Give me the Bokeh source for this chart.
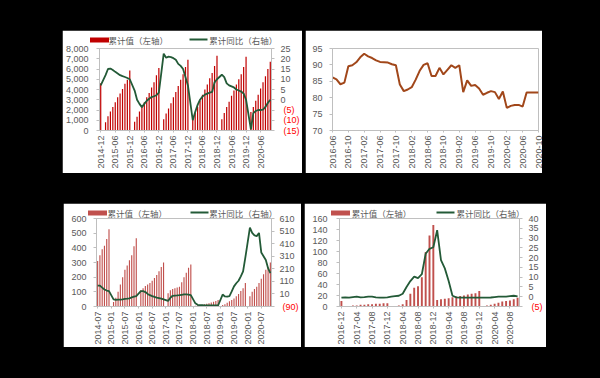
import math
from bokeh.plotting import figure
from bokeh.models import (Range1d, LinearAxis, FixedTicker, NumeralTickFormatter, Spacer)
from bokeh.layouts import row, column
from bokeh.embed import file_html
from bokeh.resources import INLINE

# ---------------- data ----------------
def month_list(y, m, n):
    out = []
    for _ in range(n):
        out.append(f"{y}-{m:02d}")
        m += 1
        if m > 12:
            m = 1
            y += 1
    return out

# Panel 1 (top-left): 2014-12 .. 2020-10
p1_months = month_list(2014, 12, 71)
p1_bars = [4600,
           None, 800, 1400, 1850, 2300, 2750, 3250, 3600, 4050, 4550, 4950, 5850,
           None, 850, 1350, 1850, 2300, 2750, 3250, 3650, 4200, 4700, 5400, 6100,
           None, 1100, 1650, 2150, 2650, 3250, 3750, 4350, 4950, 5500, 6200, 6900,
           None, 1100, 1700, 2300, 2900, 3500, 4000, 4500, 5100, 5600, 6300, 7300,
           None, 1100, 1700, 2300, 2800, 3400, 3900, 4500, 5000, 5500, 6200, 7200,
           None, 1800, 2300, 2900, 3500, 4100, 4700, 5300, 6000, 6700]
p1_yoy = [7,
          None, 12, 15, 15.2, 14.5, 13.6, 12.8, 12, 11.5, 11.1, 10.6, 10,
          None, 4.5, 0, -2, -3.6, -2, -0.5, 0.5, 1.3, 1.7, 2.2, 3.5,
          None, 22.5, 20.5, 21, 20.8, 20.3, 19.5, 17.5, 16.5, 15, 11, 7,
          None, -10, -6, -2.5, 0, 1.5, 2.5, 3, 3.5, 3.8, 8.5, 10,
          None, 12.2, 11, 8, 7, 6.5, 6, 5, 4.5, 4, 3, 0,
          None, -14.5, -6.5, -5.5, -5, -5, -4.8, -3.5, -1.5, 0]
p1_ticklabels = ["2014-12", "2015-06", "2015-12", "2016-06", "2016-12", "2017-06",
                 "2017-12", "2018-06", "2018-12", "2019-06", "2019-12", "2020-06"]

# Panel 2 (top-right): 2016-06 .. 2020-10
p2_months = month_list(2016, 6, 53)
p2_vals = [86.2, 85.6, 84.1, 84.6, 89.6, 89.9, 90.8, 92.3, 93.4, 92.6,
           92.1, 91.4, 90.9, 90.8, 90.7, 90.2, 89.9, 84.0, 82.0, 82.5,
           83.2, 85.5, 88.2, 90.0, 90.5, 86.6, 86.6, 89.1, 87.1, 88.5,
           89.9, 89.1, 89.9, 81.7, 85.3, 83.6, 83.9, 82.8, 80.9, 81.5,
           82.0, 81.7, 79.6, 81.9, 76.9, 77.5, 77.8, 77.8, 77.3, 81.6,
           81.6, 81.6, 81.6]
p2_ticklabels = ["2016-06", "2016-10", "2017-02", "2017-06", "2017-10", "2018-02",
                 "2018-06", "2018-10", "2019-02", "2019-06", "2019-10", "2020-02",
                 "2020-06", "2020-10"]

# Panel 3 (bottom-left): 2014-07 .. 2020-11
p3_months = month_list(2014, 7, 77)
p3_bars = [310, 350, 390, 415, 460, 527,
           None, 30, 60, 100, 150, 200, 250, 280, 315, 350, 410, 465,
           None, 110, 125, 140, 150, 160, 175, 195, 215, 240, 270, 300,
           None, 90, 110, 120, 125, 130, 135, 165, 200, 230, 265, 287,
           None, 5, 8, 10, 12, 15, 18, 22, 28, 33, 38, 45,
           None, 10, 15, 25, 35, 45, 55, 70, 85, 105, 125, 160,
           None, 70, 100, 120, 135, 160, 190, 220, 250, 265, 300]
p3_yoy = [76, 76, 60, 45, 37, 32,
          None, -33, -38, -36, -35, -33, -30, -28, -25, -18, -12, -7,
          None, 32, 32, 25, 10, 0, -8, -14, -20, -24, -28, -33,
          None, -46, -20, -5, -3, -2, 0, 3, 6, 6, 5, 1,
          None, -65, -77, -80, -80, -81, -81, -82, -82, -82, -82, -82,
          None, 5, -10, -12, -7, 30, 70, 95, 115, 150, 190, 300,
          None, 537, 495, 475, 470, 495, 340, 310, 280, 215, 175]
p3_ticklabels = ["2014-07", "2015-01", "2015-07", "2016-01", "2016-07", "2017-01",
                 "2017-07", "2018-01", "2018-07", "2019-01", "2019-07", "2020-01",
                 "2020-07"]

# Panel 4 (bottom-right): 2016-12 .. 2020-10
p4_months = month_list(2016, 12, 47)
p4_bars = [10,
           1, 1, 2, 2, 3, 3, 4, 4, 5, 5, 6, 6,
           1, 1, 2, 4, 12, 23, 34, 37, 53, 99, 129, 148,
           12, 13, 14, 15, 17, 18, 19, 20, 22, 23, 24, 28,
           1, 2, 3, 5, 7, 9, 10, 11, 13, 16]
p4_yoy = [-0.5,
          -0.3, -0.5, -0.2, 0, -0.3, -0.2, 0, 0, -0.3, -0.5, -0.5, -0.3,
          0, 0.3, 0.5, 1.5, 5, 8, 10.3, 9.5, 11.5, 22, 24.5, 25.3,
          34, 18.7, 14.5, 8, 0.5, -0.3, -0.5, -0.5, -0.5, -0.5, -0.5, -0.5,
          -0.5, -0.5, -0.4, -0.2, 0, 0, 0.1, 0.3, 0.5, 0.2]
p4_ticklabels = ["2016-12", "2017-04", "2017-08", "2017-12", "2018-04", "2018-08",
                 "2018-12", "2019-04", "2019-08", "2019-12", "2020-04", "2020-08"]

legend_bar = "累计值（左轴）"
legend_line = "累计同比（右轴）"

# ---------------- styling ----------------
NUM_FONT = "Liberation Sans"
CJK_FONT = "Noto Sans CJK SC"
TEXT = "#595959"
AXC = "#BFBFBF"
RED_LBL = "#FF0000"
GREEN = "#235A37"
BROWN = "#A1471A"


def style_axis(ax, size, standoff, tick_out=3):
    ax.axis_line_color = AXC
    ax.major_tick_line_color = AXC
    ax.minor_tick_line_color = AXC
    ax.major_tick_in = 0
    ax.minor_tick_in = 0
    ax.major_tick_out = tick_out
    ax.minor_tick_out = tick_out
    ax.major_label_standoff = standoff
    ax.major_label_text_font = NUM_FONT
    ax.major_label_text_font_size = size
    ax.major_label_text_color = TEXT


def base_fig(w, h, xr, yr, bl, br, bt, bb):
    p = figure(width=w, height=h, x_range=xr, y_range=yr, output_backend="svg",
               toolbar_location=None, title=None,
               min_border_left=bl, min_border_right=br,
               min_border_top=bt, min_border_bottom=bb,
               background_fill_color="white", border_fill_color="white")
    p.xgrid.visible = False
    p.ygrid.visible = False
    p.outline_line_color = None
    return p


def set_xaxis(p, months, ticklabels):
    ax = p.below[0]
    idx = [months.index(t) for t in ticklabels]
    ax.ticker = FixedTicker(ticks=idx)
    ax.major_label_overrides = {i: months[i] for i in idx}
    ax.major_label_orientation = math.pi / 2
    style_axis(ax, "9px", 3, tick_out=2)


def add_legend(p, fw, bar_color, dy, rect_c, text1_c, line_c, text2_c):
    """Legend drawn above the frame with two stacked, line-less axes."""
    p.extra_x_ranges["px"] = Range1d(0, fw)
    tout = int(round(dy + 2.5))
    # inner axis: red rectangle drawn as a wide minor tick
    g1 = LinearAxis(x_range_name="px", ticker=FixedTicker(ticks=[], minor_ticks=[rect_c]))
    g1.axis_line_color = None
    g1.major_tick_line_color = None
    g1.major_tick_in = 0
    g1.major_tick_out = 0
    g1.major_label_standoff = 0
    g1.minor_tick_line_color = bar_color
    g1.minor_tick_line_width = 19
    g1.minor_tick_in = -(tout - 5)
    g1.minor_tick_out = tout
    p.add_layout(g1, "above")
    # outer axis: legend texts as labels, green line drawn as a wide minor tick
    g2 = LinearAxis(x_range_name="px",
                    ticker=FixedTicker(ticks=[text1_c, text2_c], minor_ticks=[line_c]))
    g2.axis_line_color = None
    g2.major_tick_line_color = None
    g2.major_tick_in = 0
    g2.major_tick_out = 0
    g2.major_label_overrides = {text1_c: legend_bar, text2_c: legend_line}
    g2.major_label_text_font = CJK_FONT
    g2.major_label_text_font_size = "8.5px"
    g2.major_label_text_color = TEXT
    g2.major_label_standoff = -8
    g2.minor_tick_line_color = GREEN
    g2.minor_tick_line_width = 18
    g2.minor_tick_in = 3
    g2.minor_tick_out = -1
    p.add_layout(g2, "above")


def combo(months, bars, yoy, ticklabels, lticks, lfmt, rticks, bar_color,
          w, h, bl, br, bt, bb, lstand, rstand, rlabel_w, legend_geo):
    n = len(months)
    xr = Range1d(-0.5, n - 0.5)
    p = base_fig(w, h, xr, Range1d(lticks[0], lticks[-1]), bl, br, bt, bb)
    p.extra_y_ranges = {"r": Range1d(rticks[0], rticks[-1])}

    bx = [i for i, v in enumerate(bars) if v is not None]
    bv = [v for v in bars if v is not None]
    p.vbar(x=bx, top=bv, width=0.5, fill_color=bar_color, line_color=None)

    lx = [i for i, v in enumerate(yoy) if v is not None]
    lv = [v for v in yoy if v is not None]
    p.line(lx, lv, line_color=GREEN, line_width=1.8, y_range_name="r")

    set_xaxis(p, months, ticklabels)

    lax = p.left[0]
    lax.ticker = FixedTicker(ticks=lticks)
    if lfmt:
        lax.formatter = NumeralTickFormatter(format=lfmt)
    style_axis(lax, "9px", lstand)

    pos_ticks = [t for t in rticks if t >= 0]
    neg_ticks = [t for t in rticks if t < 0]
    rax = LinearAxis(y_range_name="r",
                     ticker=FixedTicker(ticks=pos_ticks, minor_ticks=neg_ticks))
    style_axis(rax, "9px", rstand)
    p.add_layout(rax, "right")

    # red negative labels: second right axis pulled back over the first one
    rax2 = LinearAxis(y_range_name="r", ticker=FixedTicker(ticks=neg_ticks))
    rax2.axis_line_color = None
    rax2.major_tick_line_color = None
    rax2.major_tick_in = 0
    rax2.major_tick_out = 0
    rax2.minor_tick_line_color = None
    rax2.major_label_overrides = {t: f"({-t})" for t in neg_ticks}
    rax2.major_label_text_font = NUM_FONT
    rax2.major_label_text_font_size = "9px"
    rax2.major_label_text_color = RED_LBL
    rax2.major_label_standoff = -rlabel_w
    p.add_layout(rax2, "right")

    add_legend(p, w - bl - br, bar_color, *legend_geo)
    return p


p1 = combo(p1_months, p1_bars, p1_yoy, p1_ticklabels,
           list(range(0, 8001, 1000)), "0,0", list(range(-15, 26, 5)), "#C00000",
           240, 143, 35, 28, 18, 43, 8, 6, 10,
           (8.5, 0, 40, 102, 148))

p3 = combo(p3_months, p3_bars, p3_yoy, p3_ticklabels,
           list(range(0, 601, 100)), None, list(range(-90, 611, 100)), "#C0504D",
           238, 144, 33, 25, 15, 39, 7, 5, 15,
           (5.7, 1, 42, 106, 151))

p4 = combo(p4_months, p4_bars, p4_yoy, p4_ticklabels,
           list(range(0, 161, 20)), None, list(range(-5, 41, 5)), "#C0504D",
           242, 144, 35, 27, 15, 39, 9, 6, 10,
           (5.7, 1, 42, 106, 151))

# Panel 2
p2 = base_fig(237, 143, Range1d(0, len(p2_months) - 1), Range1d(70, 95), 27, 4, 6, 40)
p2.line(list(range(len(p2_vals))), p2_vals, line_color=BROWN, line_width=2)
set_xaxis(p2, p2_months, p2_ticklabels)
ly2 = p2.left[0]
ly2.ticker = FixedTicker(ticks=[70, 75, 80, 85, 90, 95])
style_axis(ly2, "9px", 7)

layout = column(
    Spacer(width=600, height=30),
    row(Spacer(width=62, height=143), p1, Spacer(width=3, height=143), p2,
        Spacer(width=58, height=143)),
    Spacer(width=600, height=30),
    row(Spacer(width=63, height=144), p3, Spacer(width=3, height=144), p4,
        Spacer(width=54, height=144)),
    Spacer(width=600, height=31),
    styles={"background-color": "black"},
)

open("out.html", "w").write(file_html(layout, INLINE))
